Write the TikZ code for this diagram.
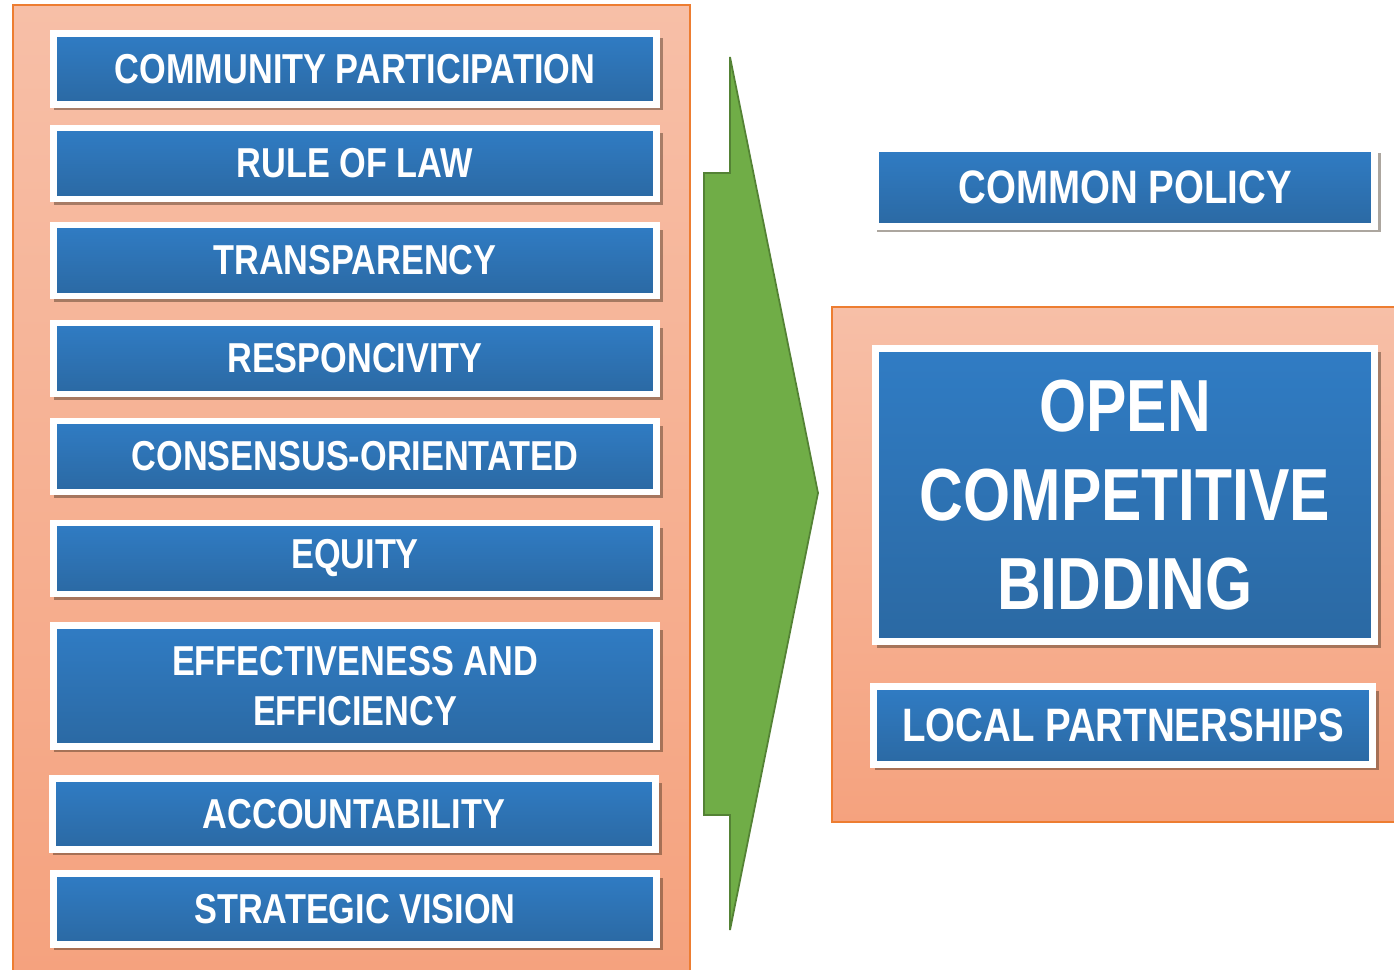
\documentclass[tikz,border=0pt]{standalone}
\usepackage{fontspec}
\newfontfamily\narrowfont{Liberation Sans}[FakeStretch=0.82]
\usetikzlibrary{shadows}

\definecolor{panelline}{HTML}{ED7D31}
\definecolor{paneltop}{HTML}{F7BFA7}
\definecolor{panelbot}{HTML}{F5A27E}
\definecolor{boxtop}{HTML}{307CC4}
\definecolor{boxbot}{HTML}{2B69A3}
\definecolor{arrowfill}{HTML}{70AD47}
\definecolor{arrowline}{HTML}{548235}

\tikzset{
    panel/.style={draw=panelline, line width=1pt, top color=paneltop, bottom color=panelbot},
    valuebox/.style={draw=white, line width=3.9pt, top color=boxtop, bottom color=boxbot,
        minimum width=12.06cm, minimum height=1.42cm, text=white, align=center,
        font=\narrowfont\bfseries\fontsize{23.8}{28.9}\selectfont,
        drop shadow={shadow xshift=2pt, shadow yshift=-3pt, shadow scale=1.01,
            opacity=0.4, fill=black!75!brown}},
    goalbox/.style={valuebox, minimum width=9.98cm, minimum height=1.56cm,
        font=\narrowfont\bfseries\fontsize{26.7}{32}\selectfont}
}

\begin{document}
\begin{tikzpicture}[x=0.02cm, y=-0.02cm]
    % Cornice della figura
    \useasboundingbox (0,0) rectangle (1394,970);

    % Pannelli di sfondo
    \draw[panel] (13,5) rectangle (690,972);
    \draw[panel] (832,307) rectangle (1396,822);

    % Freccia verde
    \draw[fill=arrowfill, draw=arrowline, line width=1pt, line join=miter]
        (704,173) -- (730,173) -- (730,57) -- (818,493) -- (730,930)
        -- (730,815) -- (704,815) -- cycle;

    % Principi (colonna sinistra)
    \node[valuebox] (community) at (355,69) {COMMUNITY PARTICIPATION};
    \node[valuebox] (law) at (355,163.5) {RULE OF LAW};
    \node[valuebox] (transparency) at (355,260.5) {TRANSPARENCY};
    \node[valuebox] (responcivity) at (355,358.5) {RESPONCIVITY};
    \node[valuebox] (consensus) at (355,456.5) {CONSENSUS-ORIENTATED};
    \node[valuebox] (equity) at (355,558.5) {EQUITY};
    \node[valuebox, minimum height=2.42cm] (effectiveness) at (355,686)
        {EFFECTIVENESS AND\\EFFICIENCY};
    \node[valuebox] (accountability) at (354,814) {ACCOUNTABILITY};
    \node[valuebox] (vision) at (355,909) {STRATEGIC VISION};

    % Risultati (colonna destra)
    \node[goalbox] (policy) at (1125,187.5) {COMMON POLICY};
    \node[goalbox, minimum height=5.86cm,
        font=\narrowfont\bfseries\fontsize{42}{50.5}\selectfont] (bidding) at (1125,495)
        {OPEN\\COMPETITIVE\\BIDDING};
    \node[goalbox] (partnerships) at (1123,725.5) {LOCAL PARTNERSHIPS};
\end{tikzpicture}
\end{document}
